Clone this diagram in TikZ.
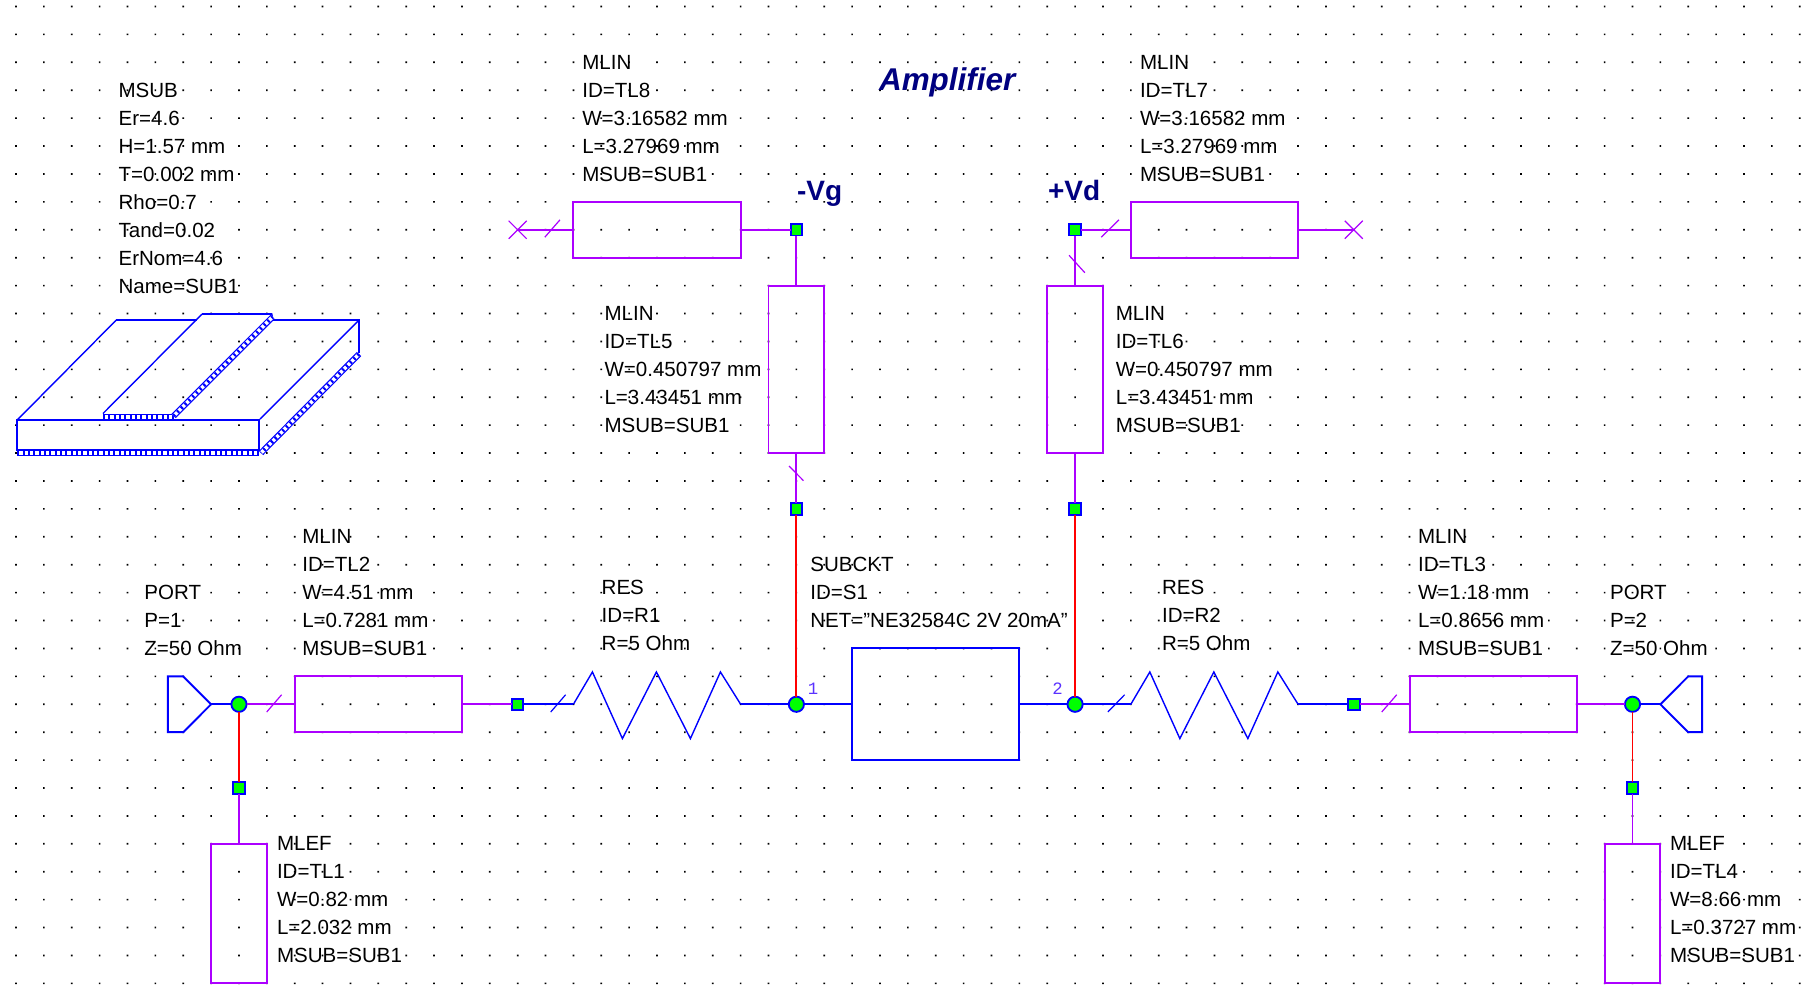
\documentclass[tikz,border=0pt]{standalone}
\usepackage{fontspec}
\setmainfont{Liberation Sans}
\newfontfamily\pinfont{Liberation Mono}
\definecolor{tlc}{RGB}{172,0,255}
\definecolor{wirec}{RGB}{0,0,255}
\definecolor{redc}{RGB}{255,0,0}
\definecolor{juncc}{RGB}{0,255,0}
\definecolor{navyc}{RGB}{0,0,128}
\definecolor{pinc}{RGB}{90,50,255}
\tikzset{
  tline/.style={draw=tlc,line width=1.45pt},
  bline/.style={draw=wirec,line width=1.45pt},
  rline/.style={draw=redc,line width=1.45pt},
  thinb/.style={draw=wirec,line width=1.05pt},
  tickm/.style={draw=tlc,line width=.9pt},
  tickb/.style={draw=wirec,line width=.9pt},
  tlbase/.style={draw=tlc,line width=1.45pt,rectangle,inner sep=0pt,outer sep=0pt},
  hbox/.style={tlbase,minimum width=125.4pt,minimum height=41.86pt},
  vbox/.style={tlbase,minimum width=41.8pt,minimum height=125.6pt},
  efbox/.style={tlbase,minimum width=41.8pt,minimum height=104.66pt},
  subbox/.style={draw=wirec,line width=1.45pt,rectangle,inner sep=0pt,outer sep=0pt,minimum width=125.4pt,minimum height=83.73pt},
  sqj/.style={draw=wirec,fill=juncc,line width=1.45pt,rectangle,inner sep=0pt,outer sep=0pt,minimum size=8.6pt},
  cirj/.style={draw=wirec,fill=juncc,line width=1.4pt,circle,inner sep=0pt,outer sep=0pt,minimum size=11.4pt},
  lbl/.style={font=\fontsize{15.4pt}{21pt}\selectfont,align=left,anchor=north west,inner sep=0pt,outer sep=0pt,text=black},
  bigl/.style={font=\fontsize{21pt}{24pt}\selectfont\bfseries,text=navyc,anchor=base west,inner sep=0pt,outer sep=0pt},
  titl/.style={font=\fontsize{23.6pt}{26pt}\selectfont\bfseries\itshape,text=navyc,anchor=base west,inner sep=0pt,outer sep=0pt},
  pinl/.style={font=\fontsize{13pt}{14pt}\selectfont\pinfont,text=pinc,inner sep=0pt,outer sep=0pt}
}
\newcommand\lab[4]{\node[lbl] (#1) at (#2,{6.5+27.91*#3-7.2}) {#4};}
\newcommand\hatchband[2]{%
  \draw[wirec,line width=.9pt,double=white,double distance=2.7pt] #1 -- #2;
  \draw[wirec,line width=2.7pt,dash pattern=on 1.5pt off 2.5pt] #1 -- #2;}
\newcommand\zig[2]{\draw[thinb] (#1) -- ++(19,-32.3) -- ++(30,66.6) -- ++(34,-66.6) -- ++(34,66.6) -- ++(30,-66.6) -- (#2);}
\newcommand\xmark[1]{\draw[tickm] (#1) ++(-9,-9) -- ++(18,18); \draw[tickm] (#1) ++(-9,9) -- ++(18,-18);}
\begin{document}
\begin{tikzpicture}[x=20.9025pt,y=-20.9325pt]
\useasboundingbox (-0.5741,-0.2329) rectangle (64.4403,35.5249);
\fill[white] (-0.5741,-0.2329) rectangle (64.4403,35.5249);
% grid of dots
\fill[black] \foreach \i in {0,...,64}{\foreach \j in {0,...,35}{(\i-.03,\j-.03) rectangle ++(.06,.06)}};

% components
\node[hbox] (tl8) at (23,8) {};
\node[hbox] (tl7) at (43,8) {};
\node[vbox] (tl5) at (28,13) {};
\node[vbox] (tl6) at (38,13) {};
\node[hbox] (tl2) at (13,25) {};
\node[hbox] (tl3) at (53,25) {};
\node[efbox] (tl1) at (8,32.5) {};
\node[efbox] (tl4) at (58,32.5) {};
\node[subbox] (s1) at (33,25) {};

% junctions
\node[sqj] (vg) at (28,8) {};
\node[sqj] (vd) at (38,8) {};
\node[sqj] (j5) at (28,18) {};
\node[sqj] (j6) at (38,18) {};
\node[sqj] (j2) at (18,25) {};
\node[sqj] (j3) at (48,25) {};
\node[sqj] (j1) at (8,28) {};
\node[sqj] (j4) at (58,28) {};
\node[cirj] (n1) at (8,25) {};
\node[cirj] (n2) at (28,25) {};
\node[cirj] (n3) at (38,25) {};
\node[cirj] (n4) at (58,25) {};

% free ends
\coordinate (x8) at (18,8);
\coordinate (x7) at (48,8);
\coordinate (r1a) at (20,25);
\coordinate (r1b) at (26,25);
\coordinate (r2a) at (40,25);
\coordinate (r2b) at (46,25);
\coordinate (p1) at (7,25);
\coordinate (p2) at (59,25);

% connectors
\draw[tline] (x8) -- (tl8.west);
\draw[tline] (tl8.east) -- (vg);
\draw[tline] (vg) -- (tl5.north);
\draw[tline] (tl5.south) -- (j5);
\draw[rline] (j5) -- (n2);
\draw[tline] (vd) -- (tl7.west);
\draw[tline] (tl7.east) -- (x7);
\draw[tline] (vd) -- (tl6.north);
\draw[tline] (tl6.south) -- (j6);
\draw[rline] (j6) -- (n3);
\draw[bline] (p1) -- (n1);
\draw[tline] (n1) -- (tl2.west);
\draw[tline] (tl2.east) -- (j2);
\draw[bline] (j2) -- (r1a);
\draw[bline] (r1b) -- (n2);
\draw[bline] (n2) -- (s1.west);
\draw[bline] (s1.east) -- (n3);
\draw[bline] (n3) -- (r2a);
\draw[bline] (r2b) -- (j3);
\draw[tline] (j3) -- (tl3.west);
\draw[tline] (tl3.east) -- (n4);
\draw[bline] (n4) -- (p2);
\draw[rline] (n1) -- (j1);
\draw[tline] (j1) -- (tl1.north);
\draw[rline] (n4) -- (j4);
\draw[tline] (j4) -- (tl4.north);

% ports
\draw[bline] (p1) -- (6,24) -- (5.45,24) -- (5.45,26) -- (6,26) -- cycle;
\draw[bline] (p2) -- (60,24) -- (60.5,24) -- (60.5,26) -- (60,26) -- cycle;

\begin{scope}[shift={(-0.5741,-0.2329)},x=.75pt,y=-.75pt]
  % resistors
  \zig{r1a}{r1b}
  \zig{r2a}{r2b}
  % ticks
  \xmark{x8}
  \xmark{x7}
  \draw[tickm] (544.8,237.2) -- (560,219.8);
  \draw[tickm] (1101.3,237.2) -- (1118.9,219.8);
  \draw[tickm] (789,466) -- (803.5,480.7);
  \draw[tickm] (1069,255.3) -- (1084.8,272.7);
  \draw[tickm] (266.7,712) -- (281.6,694.7);
  \draw[tickb] (550.7,712) -- (565.6,694.7);
  \draw[tickb] (1107.8,712) -- (1124.6,694.7);
  \draw[tickm] (1381.7,712) -- (1396.7,694.7);

  % substrate drawing
  \draw[bline] (17.2,420) rectangle (259,450);
  \hatchband{(17.2,453)}{(259,453)}
  \draw[thinb] (17.2,420) -- (116.3,320);
  \draw[bline] (116.3,320) -- (197,320);
  \draw[thinb] (103,413.5) -- (202,314);
  \draw[bline] (202,314) -- (271.5,314) -- (272.5,319);
  \draw[bline] (272.5,320) -- (359,320) -- (359,353);
  \draw[thinb] (359,320) -- (260,419);
  \hatchband{(103,416.7)}{(173.6,416.7)}
  \hatchband{(173.6,416)}{(272.5,317)}
  \hatchband{(359,354)}{(261,453)}

  % labels
  \lab{lsub}{118.6}{3}{MSUB\\Er=4.6\\H=1.57 mm\\T=0.002 mm\\Rho=0.7\\Tand=0.02\\ErNom=4.6\\Name=SUB1}
  \lab{ltl8}{582.3}{2}{MLIN\\ID=TL8\\W=3.16582 mm\\L=3.27969 mm\\MSUB=SUB1}
  \lab{ltl7}{1140}{2}{MLIN\\ID=TL7\\W=3.16582 mm\\L=3.27969 mm\\MSUB=SUB1}
  \lab{ltl5}{604.5}{11}{MLIN\\ID=TL5\\W=0.450797 mm\\L=3.43451 mm\\MSUB=SUB1}
  \lab{ltl6}{1115.8}{11}{MLIN\\ID=TL6\\W=0.450797 mm\\L=3.43451 mm\\MSUB=SUB1}
  \lab{ltl2}{302.3}{19}{MLIN\\ID=TL2\\W=4.51 mm\\L=0.7281 mm\\MSUB=SUB1}
  \lab{ltl3}{1418}{19}{MLIN\\ID=TL3\\W=1.18 mm\\L=0.8656 mm\\MSUB=SUB1}
  \lab{lp1}{144.4}{21}{PORT\\P=1\\Z=50 Ohm}
  \lab{lp2}{1610}{21}{PORT\\P=2\\Z=50 Ohm}
  \lab{lr1}{601.7}{20.8}{RES\\ID=R1\\R=5 Ohm}
  \lab{lr2}{1162}{20.8}{RES\\ID=R2\\R=5 Ohm}
  \lab{ls1}{810.3}{20}{SUBCKT\\ID=S1\\NET="NE32584C 2V 20mA"}
  \lab{ltl1}{277}{30}{MLEF\\ID=TL1\\W=0.82 mm\\L=2.032 mm\\MSUB=SUB1}
  \lab{ltl4}{1670}{30}{MLEF\\ID=TL4\\W=8.66 mm\\L=0.3727 mm\\MSUB=SUB1}
  \node[titl] (title) at (879,90.7) {Amplifier};
  \node[bigl] (lvg) at (797,200.5) {-Vg};
  \node[bigl] (lvd) at (1048,200.5) {+Vd};
  \node[pinl] (pin1) at (813,689) {1};
  \node[pinl] (pin2) at (1057.6,689) {2};
\end{scope}
\end{tikzpicture}
\end{document}
